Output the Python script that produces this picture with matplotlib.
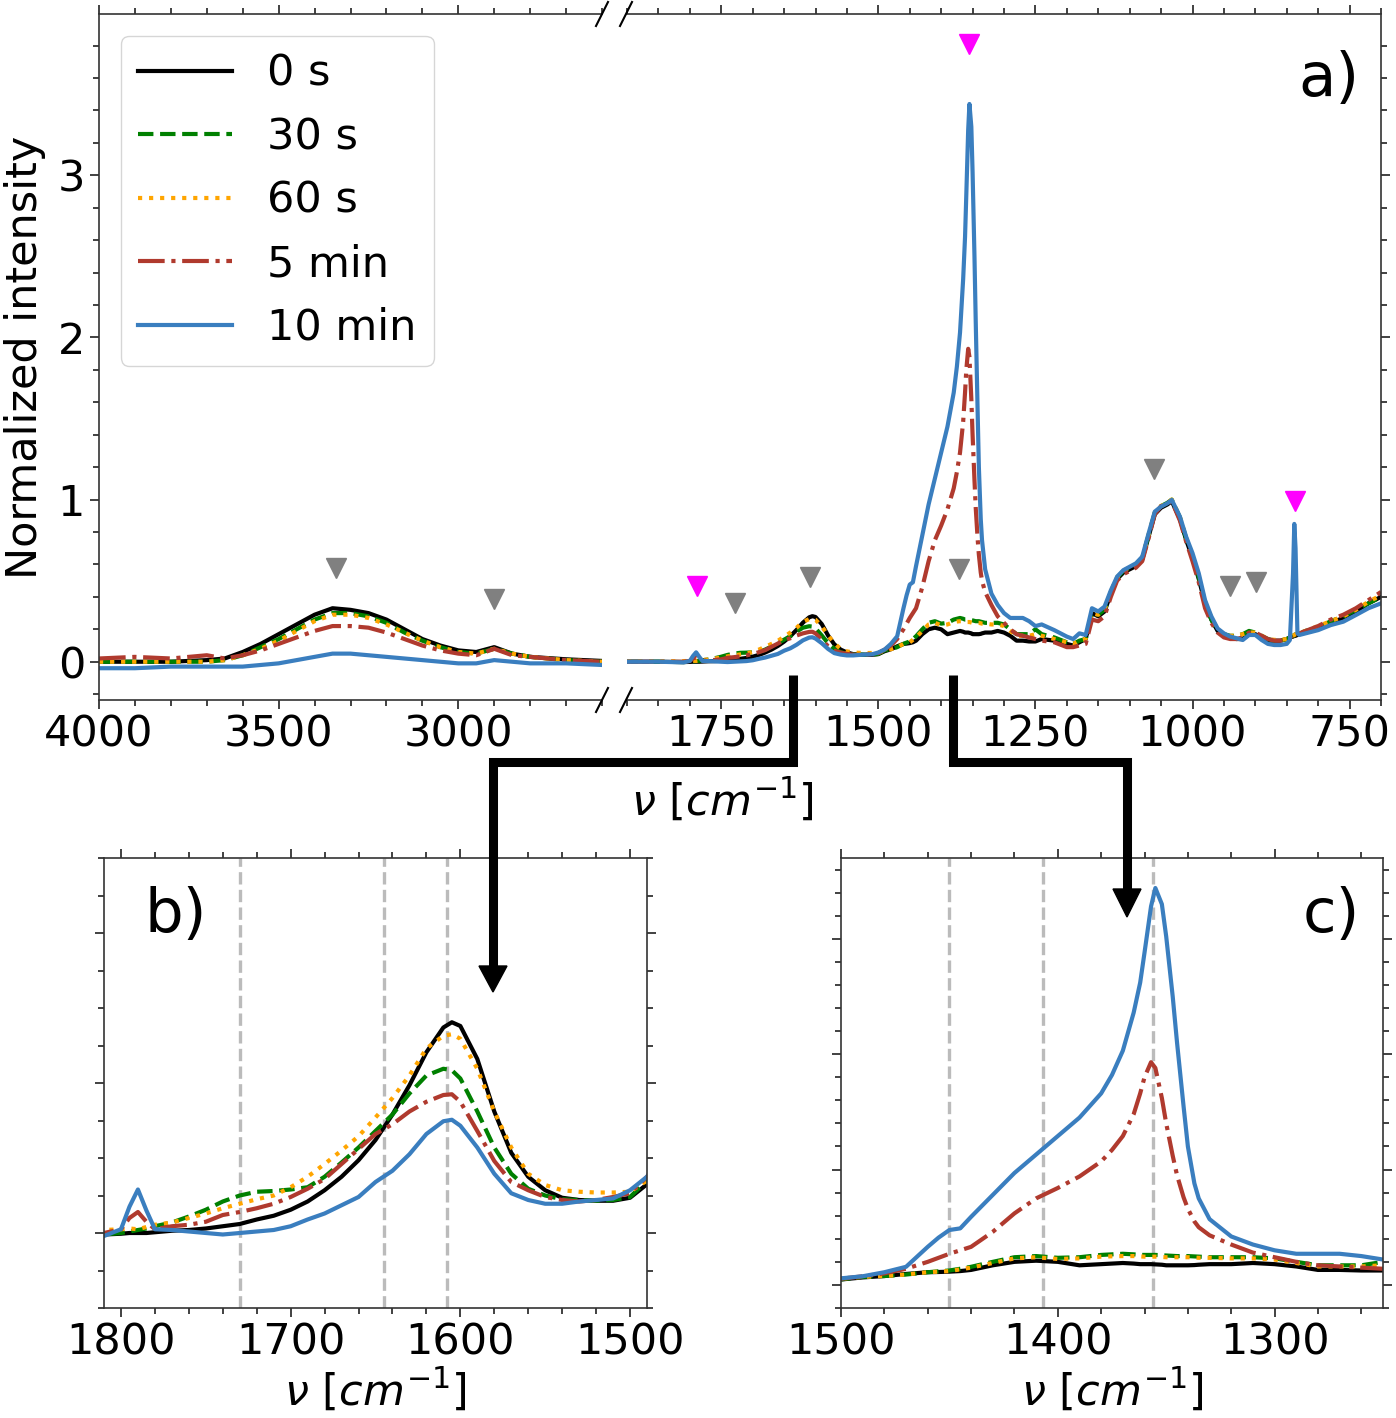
import matplotlib
matplotlib.use('Agg')
import matplotlib.pyplot as plt
import numpy as np
from matplotlib.ticker import MultipleLocator
from matplotlib.lines import Line2D
from matplotlib.patches import Polygon

plt.rcParams['font.family'] = ['DejaVu Sans']
plt.rcParams['font.size'] = 31
plt.rcParams['mathtext.fontset'] = 'dejavusans'

# legend / style per irradiation time
labels = ['0 s', '30 s', '60 s', '5 min', '10 min']
colors = ['black', 'green', 'orange', '#b03a2e', '#3a7ebf']
styles = ['-', '--', ':', '-.', '-']

# ---- O-H / C-H stretch region (left part of panel a)
wn_oh = [4000, 3900, 3800, 3700, 3650, 3600, 3550, 3500, 3450, 3400, 3350, 3300,
         3250, 3200, 3150, 3100, 3050, 3000, 2950, 2900, 2850, 2800, 2700, 2600]
oh_0s = [0.00, 0.00, 0.00, 0.01, 0.02, 0.06, 0.11, 0.17, 0.23, 0.29, 0.33, 0.32,
         0.30, 0.26, 0.20, 0.14, 0.10, 0.07, 0.06, 0.09, 0.05, 0.03, 0.015, 0.005]
oh_30s = [0.00, 0.00, 0.00, 0.00, 0.01, 0.04, 0.09, 0.14, 0.20, 0.26, 0.30, 0.30,
          0.28, 0.24, 0.18, 0.13, 0.09, 0.06, 0.05, 0.08, 0.05, 0.03, 0.01, 0.00]
oh_60s = [0.00, 0.00, 0.00, 0.00, 0.01, 0.04, 0.08, 0.13, 0.19, 0.25, 0.29, 0.29,
          0.27, 0.23, 0.18, 0.13, 0.09, 0.06, 0.05, 0.08, 0.05, 0.03, 0.01, 0.00]
oh_5min = [0.02, 0.03, 0.02, 0.04, 0.02, 0.04, 0.07, 0.11, 0.15, 0.19, 0.22, 0.22,
           0.21, 0.18, 0.14, 0.10, 0.07, 0.05, 0.04, 0.08, 0.04, 0.03, 0.01, 0.00]
oh_10min = [-0.04, -0.04, -0.03, -0.03, -0.03, -0.03, -0.02, -0.01, 0.01, 0.03, 0.05, 0.05,
            0.04, 0.03, 0.02, 0.01, 0.00, -0.01, -0.01, 0.01, 0.00, -0.01, -0.01, -0.02]

# ---- 1900-1500 (panel b window)
wn_b = [1900, 1850, 1810, 1800, 1795, 1790, 1785, 1780, 1770, 1760, 1750, 1740, 1730,
        1720, 1710, 1700, 1690, 1680, 1670, 1660, 1650, 1640, 1630, 1620, 1610, 1605,
        1600, 1590, 1580, 1570, 1560, 1550, 1540, 1530, 1520, 1510, 1500]
b_0s = [0.0, 0.0, -0.002, -0.001, 0.0, 0.0, 0.0, 0.001, 0.003, 0.004, 0.006, 0.009, 0.012,
        0.018, 0.023, 0.031, 0.042, 0.057, 0.075, 0.097, 0.124, 0.158, 0.197, 0.241, 0.274, 0.281,
        0.276, 0.232, 0.162, 0.107, 0.075, 0.057, 0.047, 0.044, 0.043, 0.043, 0.047]
b_30s = [0.0, 0.0, -0.002, 0.0, 0.002, 0.004, 0.006, 0.009, 0.014, 0.022, 0.031, 0.042, 0.050,
         0.055, 0.056, 0.058, 0.061, 0.075, 0.094, 0.114, 0.136, 0.158, 0.186, 0.210, 0.219, 0.217,
         0.206, 0.162, 0.114, 0.079, 0.059, 0.050, 0.045, 0.044, 0.043, 0.044, 0.048]
b_60s = [0.0, 0.0, 0.004, 0.005, 0.006, 0.005, 0.008, 0.011, 0.014, 0.020, 0.026, 0.033, 0.039,
         0.045, 0.050, 0.061, 0.075, 0.092, 0.110, 0.129, 0.154, 0.180, 0.210, 0.246, 0.263, 0.265,
         0.259, 0.219, 0.162, 0.114, 0.079, 0.064, 0.057, 0.055, 0.054, 0.054, 0.055]
b_5min = [0.0, 0.0, 0.0, 0.005, 0.020, 0.028, 0.015, 0.005, 0.009, 0.011, 0.015, 0.024, 0.028,
          0.033, 0.039, 0.048, 0.059, 0.072, 0.092, 0.112, 0.132, 0.145, 0.162, 0.175, 0.184, 0.185,
          0.175, 0.136, 0.096, 0.068, 0.057, 0.048, 0.044, 0.042, 0.044, 0.048, 0.053]
b_10min = [0.0, 0.0, -0.004, 0.005, 0.035, 0.058, 0.030, 0.005, 0.004, 0.002, 0.0, -0.002, 0.0,
           0.002, 0.004, 0.009, 0.018, 0.026, 0.037, 0.048, 0.068, 0.083, 0.105, 0.132, 0.149, 0.151,
           0.143, 0.114, 0.079, 0.053, 0.044, 0.039, 0.039, 0.042, 0.044, 0.046, 0.057]

# ---- 1490-1250 (panel c window)
wn_c = [1490, 1480, 1470, 1460, 1455, 1450, 1445, 1440, 1430, 1420, 1410, 1400, 1390, 1380,
        1375, 1370, 1365, 1362, 1360, 1357, 1355, 1352, 1350, 1347, 1345, 1342, 1340, 1337,
        1335, 1330, 1320, 1310, 1300, 1290, 1280, 1270, 1260, 1250]
c_0s = [0.065, 0.077, 0.095, 0.11, 0.112, 0.115, 0.12, 0.13, 0.17, 0.20, 0.21, 0.20, 0.17, 0.18,
        0.185, 0.19, 0.185, 0.18, 0.18, 0.18, 0.178, 0.175, 0.17, 0.17, 0.17, 0.17, 0.17, 0.172,
        0.175, 0.18, 0.18, 0.19, 0.18, 0.16, 0.13, 0.13, 0.125, 0.125]
c_30s = [0.07, 0.077, 0.09, 0.11, 0.118, 0.125, 0.14, 0.157, 0.20, 0.24, 0.25, 0.235, 0.24, 0.26,
         0.265, 0.27, 0.265, 0.26, 0.26, 0.26, 0.26, 0.257, 0.255, 0.252, 0.25, 0.25, 0.25, 0.247,
         0.245, 0.24, 0.24, 0.24, 0.23, 0.20, 0.17, 0.17, 0.17, 0.20]
c_60s = [0.07, 0.077, 0.09, 0.11, 0.115, 0.12, 0.135, 0.15, 0.19, 0.23, 0.24, 0.225, 0.23, 0.245,
         0.248, 0.25, 0.25, 0.247, 0.245, 0.245, 0.245, 0.242, 0.24, 0.24, 0.24, 0.24, 0.24, 0.237,
         0.235, 0.235, 0.23, 0.23, 0.22, 0.19, 0.16, 0.16, 0.16, 0.17]
c_5min = [0.075, 0.10, 0.14, 0.20, 0.235, 0.27, 0.30, 0.33, 0.46, 0.62, 0.75, 0.84, 0.94, 1.07,
          1.17, 1.29, 1.48, 1.66, 1.80, 1.93, 1.88, 1.62, 1.40, 1.12, 0.95, 0.76, 0.66, 0.55,
          0.50, 0.43, 0.35, 0.28, 0.24, 0.20, 0.17, 0.16, 0.15, 0.14]
c_10min = [0.075, 0.11, 0.157, 0.33, 0.41, 0.476, 0.49, 0.59, 0.78, 0.97, 1.13, 1.29, 1.45, 1.66,
           1.82, 2.03, 2.36, 2.62, 2.88, 3.28, 3.44, 3.30, 3.02, 2.50, 2.10, 1.55, 1.20, 0.88,
           0.75, 0.57, 0.42, 0.35, 0.30, 0.27, 0.27, 0.27, 0.25, 0.22]

# ---- 1240-700 fingerprint
wn_fp = [1240, 1220, 1200, 1190, 1180, 1170, 1160, 1150, 1140, 1130, 1120, 1110, 1100, 1090,
         1080, 1070, 1060, 1050, 1040, 1033, 1020, 1010, 1000, 990, 980, 970, 960, 950, 940,
         930, 920, 910, 900, 890, 880, 870, 860, 850, 845, 840, 838, 836, 833, 830, 820, 800,
         780, 760, 740, 720, 700]
fp_0s = [0.14, 0.13, 0.11, 0.10, 0.12, 0.14, 0.30, 0.28, 0.31, 0.42, 0.51, 0.55, 0.57, 0.59,
         0.63, 0.77, 0.91, 0.95, 0.97, 0.99, 0.88, 0.75, 0.64, 0.51, 0.36, 0.26, 0.19, 0.16, 0.15,
         0.14, 0.14, 0.17, 0.17, 0.15, 0.13, 0.13, 0.13, 0.14, 0.15, 0.155, 0.16, 0.16, 0.165, 0.17,
         0.18, 0.21, 0.24, 0.27, 0.31, 0.36, 0.40]
fp_30s = [0.17, 0.15, 0.12, 0.11, 0.13, 0.14, 0.30, 0.29, 0.32, 0.43, 0.52, 0.56, 0.58, 0.60,
          0.64, 0.78, 0.92, 0.96, 0.98, 1.00, 0.89, 0.76, 0.65, 0.52, 0.36, 0.26, 0.19, 0.17, 0.16,
          0.16, 0.17, 0.19, 0.18, 0.16, 0.14, 0.13, 0.13, 0.14, 0.15, 0.16, 0.165, 0.17, 0.17, 0.175,
          0.19, 0.21, 0.25, 0.28, 0.32, 0.36, 0.40]
fp_60s = [0.16, 0.14, 0.12, 0.11, 0.13, 0.14, 0.30, 0.29, 0.32, 0.43, 0.52, 0.56, 0.58, 0.60,
          0.64, 0.78, 0.92, 0.96, 0.98, 1.00, 0.89, 0.76, 0.65, 0.52, 0.37, 0.27, 0.20, 0.17, 0.16,
          0.16, 0.17, 0.18, 0.18, 0.16, 0.14, 0.135, 0.135, 0.14, 0.15, 0.16, 0.165, 0.17, 0.17, 0.175,
          0.19, 0.22, 0.25, 0.28, 0.32, 0.37, 0.41]
fp_5min = [0.13, 0.12, 0.09, 0.09, 0.10, 0.11, 0.26, 0.25, 0.28, 0.40, 0.50, 0.54, 0.56, 0.58,
           0.62, 0.76, 0.91, 0.96, 0.98, 0.99, 0.87, 0.74, 0.62, 0.49, 0.33, 0.24, 0.18, 0.15, 0.14,
           0.14, 0.15, 0.18, 0.18, 0.16, 0.14, 0.13, 0.13, 0.14, 0.15, 0.16, 0.165, 0.17, 0.17, 0.175,
           0.19, 0.22, 0.26, 0.29, 0.33, 0.38, 0.43]
fp_10min = [0.23, 0.195, 0.155, 0.14, 0.175, 0.165, 0.33, 0.31, 0.34, 0.44, 0.525, 0.565, 0.586, 0.607,
            0.648, 0.79, 0.926, 0.957, 0.977, 0.998, 0.895, 0.77, 0.67, 0.545, 0.38, 0.28, 0.205, 0.175, 0.155,
            0.145, 0.134, 0.165, 0.165, 0.134, 0.11, 0.103, 0.103, 0.11, 0.134, 0.545, 0.85, 0.70, 0.175, 0.165,
            0.175, 0.195, 0.226, 0.247, 0.288, 0.33, 0.36]

# guide lines in the zoom panels
vlines_b = [1730, 1645, 1608]
vlines_c = [1450, 1407, 1356]

# band markers in panel a
grey_hi_x = [3340, 2900]
grey_hi_y = [0.58, 0.39]
grey_lo_x = [1728, 1608, 1372, 1061, 940, 899]
grey_lo_y = [0.36, 0.52, 0.57, 1.19, 0.47, 0.49]
mag_x = [1789, 1356, 837]
mag_y = [0.47, 3.81, 0.99]

oh_sets = [oh_0s, oh_30s, oh_60s, oh_5min, oh_10min]
wn_lo = wn_b + wn_c + wn_fp
lo_sets = [b_0s + c_0s + fp_0s, b_30s + c_30s + fp_30s, b_60s + c_60s + fp_60s,
           b_5min + c_5min + fp_5min, b_10min + c_10min + fp_10min]

W, H = 1396, 1418
fig = plt.figure(figsize=(W / 100, H / 100), dpi=100)


def box(x0, y0, x1, y1):
    # pixel box (top-left origin) -> figure fraction rect
    return [x0 / W, 1 - y1 / H, (x1 - x0) / W, (y1 - y0) / H]


ax_hi = fig.add_axes(box(99, 14, 602, 700))
ax_lo = fig.add_axes(box(627, 14, 1381, 700))
ax_b = fig.add_axes(box(104, 858, 647, 1308))
ax_c = fig.add_axes(box(841, 858, 1383, 1308))

lw = 3.0
for i in range(5):
    ax_hi.plot(wn_oh, oh_sets[i], color=colors[i], ls=styles[i], lw=lw, label=labels[i])
    ax_lo.plot(wn_lo, lo_sets[i], color=colors[i], ls=styles[i], lw=lw)
    ax_b.plot(wn_lo, lo_sets[i], color=colors[i], ls=styles[i], lw=lw)
    ax_c.plot(wn_lo, lo_sets[i], color=colors[i], ls=styles[i], lw=lw)

ax_hi.plot(grey_hi_x, grey_hi_y, 'v', color='grey', ms=14)
ax_lo.plot(grey_lo_x, grey_lo_y, 'v', color='grey', ms=14)
ax_lo.plot(mag_x, mag_y, 'v', color='magenta', ms=14)

for v in vlines_b:
    ax_b.axvline(v, color='#bbbbbb', ls='--', lw=2.4, zorder=0)
for v in vlines_c:
    ax_c.axvline(v, color='#bbbbbb', ls='--', lw=2.4, zorder=0)

ax_hi.set_xlim(4000, 2600)
ax_lo.set_xlim(1900, 700)
ax_b.set_xlim(1810, 1490)
ax_c.set_xlim(1500, 1250)
for a in (ax_hi, ax_lo):
    a.set_ylim(-0.236, 3.995)
    a.yaxis.set_major_locator(MultipleLocator(1))
    a.yaxis.set_minor_locator(MultipleLocator(0.2))
ax_b.set_ylim(-0.1, 0.5)
ax_c.set_ylim(-0.2, 3.7)

ax_hi.xaxis.set_major_locator(MultipleLocator(500))
ax_hi.xaxis.set_minor_locator(MultipleLocator(100))
ax_lo.xaxis.set_major_locator(MultipleLocator(250))
ax_lo.xaxis.set_minor_locator(MultipleLocator(50))
for a in (ax_b, ax_c):
    a.xaxis.set_major_locator(MultipleLocator(100))
    a.xaxis.set_minor_locator(MultipleLocator(20))
ax_b.yaxis.set_major_locator(MultipleLocator(0.2))
ax_b.yaxis.set_minor_locator(MultipleLocator(0.05))
ax_c.yaxis.set_major_locator(MultipleLocator(1))
ax_c.yaxis.set_minor_locator(MultipleLocator(0.2))

for a in (ax_hi, ax_lo, ax_b, ax_c):
    a.tick_params(which='both', direction='out', top=True, bottom=True, width=1.3, color='#333333')
    a.tick_params(which='major', length=6.5)
    a.tick_params(which='minor', length=4)
    for s in a.spines.values():
        s.set_color('#333333')
        s.set_linewidth(1.2)

ax_hi.tick_params(which='both', left=True, right=False)
ax_hi.spines['right'].set_visible(False)
ax_lo.tick_params(which='both', left=False, right=True, labelleft=False)
ax_lo.spines['left'].set_visible(False)
for a in (ax_b, ax_c):
    a.tick_params(which='both', left=True, right=True, labelleft=False)

ax_hi.set_ylabel('Normalized intensity')
ax_hi.yaxis.set_label_coords(-0.105, 0.5)
xl = r'$\nu\ [cm^{-1}]$'
ax_b.set_xlabel(xl, labelpad=2)
ax_c.set_xlabel(xl, labelpad=2)
fig.text(722 / W, 1 - 800 / H, xl, ha='center', va='center')

leg = ax_hi.legend(loc='upper left', handlelength=2.2)

ax_lo.text(0.972, 0.905, 'a)', transform=ax_lo.transAxes, ha='right', va='center', fontsize=44)
ax_b.text(0.075, 0.873, 'b)', transform=ax_b.transAxes, ha='left', va='center', fontsize=44)
ax_c.text(0.958, 0.873, 'c)', transform=ax_c.transAxes, ha='right', va='center', fontsize=44)


def fx(x):
    return x / W


def fy(y):
    return 1 - y / H


# broken-axis slashes
for yb in (14, 700):
    for xs in (596, 620):
        fig.add_artist(Line2D([fx(xs), fx(xs + 12)], [fy(yb + 12), fy(yb - 12)],
                              color='black', lw=1.5))

# connector arrows from panel a to the zooms
arrows = [
    ([793, 793, 493, 493], [675, 762, 762, 966], 992),
    ([953, 953, 1127, 1127], [675, 762, 762, 889], 917),
]
for xs, ys, tip in arrows:
    fig.add_artist(Line2D([fx(x) for x in xs], [fy(y) for y in ys], color='black',
                          lw=6.5, solid_joinstyle='miter', solid_capstyle='butt'))
    xh, yh = xs[-1], ys[-1]
    fig.add_artist(Polygon([(fx(xh - 14), fy(yh)), (fx(xh + 14), fy(yh)), (fx(xh), fy(tip))],
                           closed=True, color='black', transform=fig.transFigure))

fig.savefig('out.png', dpi=100)
